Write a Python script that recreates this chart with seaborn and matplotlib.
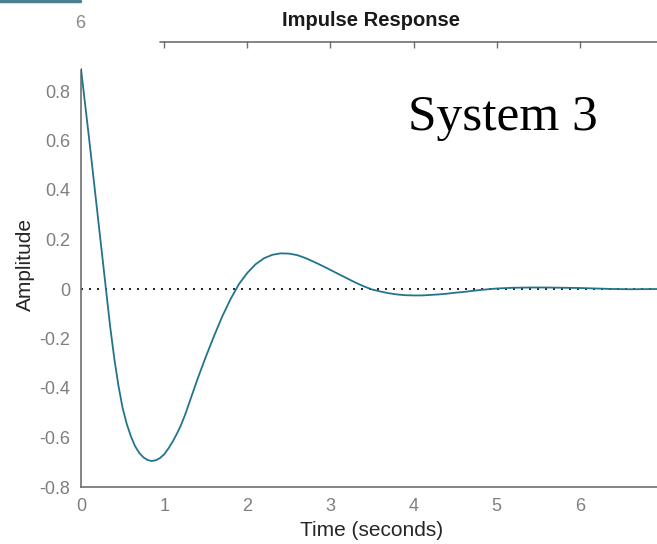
import matplotlib
matplotlib.use("Agg")
import matplotlib.pyplot as plt
from matplotlib.lines import Line2D
import numpy as np
import pandas as pd
import seaborn as sns

# ---- data ----
time_s = [0.0, 0.05, 0.1, 0.15, 0.2, 0.25, 0.3, 0.35, 0.4, 0.45, 0.5, 0.55,
          0.6, 0.65, 0.7, 0.75, 0.8, 0.85, 0.9, 0.95, 1.0, 1.05, 1.1, 1.15,
          1.2, 1.25, 1.3, 1.4, 1.5, 1.6, 1.7, 1.8, 1.9, 2.0, 2.1, 2.2, 2.3,
          2.4, 2.5, 2.6, 2.7, 2.8, 2.9, 3.0, 3.1, 3.2, 3.3, 3.4, 3.5, 3.6,
          3.7, 3.8, 3.9, 4.0, 4.1, 4.2, 4.3, 4.4, 4.5, 4.6, 4.7, 4.8, 4.9,
          5.0, 5.2, 5.4, 5.6, 5.8, 6.0, 6.2, 6.4, 6.6, 7.0]
amplitude = [0.89, 0.745, 0.60, 0.45, 0.30, 0.15, 0.0, -0.15, -0.28, -0.39,
             -0.48, -0.545, -0.595, -0.635, -0.662, -0.68, -0.691, -0.695,
             -0.692, -0.683, -0.668, -0.645, -0.618, -0.587, -0.552, -0.51,
             -0.462, -0.365, -0.275, -0.19, -0.11, -0.04, 0.02, 0.065, 0.10,
             0.124, 0.138, 0.144, 0.143, 0.137, 0.125, 0.11, 0.094, 0.077,
             0.06, 0.043, 0.026, 0.011, -0.002, -0.01, -0.017, -0.022, -0.025,
             -0.026, -0.026, -0.024, -0.022, -0.019, -0.015, -0.012, -0.008,
             -0.004, -0.001, 0.002, 0.005, 0.006, 0.006, 0.005, 0.004, 0.002,
             0.0, -0.001, 0.0]
x_ticks = [0, 1, 2, 3, 4, 5, 6]
y_ticks = [-0.8, -0.6, -0.4, -0.2, 0.0, 0.2, 0.4, 0.6, 0.8]
y_tick_labels = ["-0.8", "-0.6", "-0.4", "-0.2", "0", "0.2", "0.4", "0.6", "0.8"]

df = pd.DataFrame({"Time": time_s, "Amplitude": amplitude})

sns.set_theme(style="white")
plt.rcParams["font.family"] = ["Liberation Sans", "DejaVu Sans"]

W, H = 657, 544
fig = plt.figure(figsize=(W / 100, H / 100), dpi=100)
ax = fig.add_axes([81 / W, 57 / H, 582 / W, 445.5 / H])

spine_col = "#6f6f6f"
ax.axhline(0, color="black", ls=(0, (1.2, 3.6)), lw=1.2, zorder=1)
sns.lineplot(data=df, x="Time", y="Amplitude", ax=ax, color="#22748c",
             lw=1.3, zorder=3)

ax.set_xlim(0, 7)
ax.set_ylim(-0.8, 1.0)
ax.set_xticks(x_ticks)
ax.set_xticklabels([str(t) for t in x_ticks])
ax.set_yticks(y_ticks)
ax.set_yticklabels(y_tick_labels)
ax.tick_params(direction="in", length=5, width=1, color=spine_col,
               labelcolor="#7f7f7f", labelsize=13, pad=8)

for s in ["top", "right"]:
    ax.spines[s].set_visible(False)
for s in ["left", "bottom"]:
    ax.spines[s].set_color(spine_col)
    ax.spines[s].set_linewidth(1.2)
ax.spines["left"].set_bounds(-0.8, 0.885)

# partial top frame line with inward ticks
ax.plot([0.95, 7.2], [1.0, 1.0], color=spine_col, lw=1.2, clip_on=False, zorder=4)
sec = ax.secondary_xaxis("top")
sec.set_xticks(x_ticks[1:])
sec.tick_params(direction="in", length=5, width=1, color=spine_col,
                labeltop=False)
sec.spines["top"].set_visible(False)

ax.set_xlabel("Time (seconds)", fontsize=15, color="#262626", labelpad=4)
ax.set_ylabel("Amplitude", fontsize=15, color="#262626", labelpad=3)

fig.text(371 / W, 1 - 20 / H, "Impulse Response", ha="center", va="center",
         fontweight="bold", fontsize=14.5, color="#1a1a1a")
fig.text(408 / W, 1 - 130 / H, "System 3", ha="left", va="baseline",
         family=["Liberation Serif", "DejaVu Serif"], fontsize=37, color="black")
fig.text(80 / W, 1 - 23 / H, "6", ha="center", va="center", fontsize=13,
         color="#888888")
fig.add_artist(Line2D([0, 80 / W], [1 - 1.2 / H, 1 - 1.2 / H],
                      color="#4a7f8e", lw=2.5))

fig.savefig("out.png", dpi=100)
